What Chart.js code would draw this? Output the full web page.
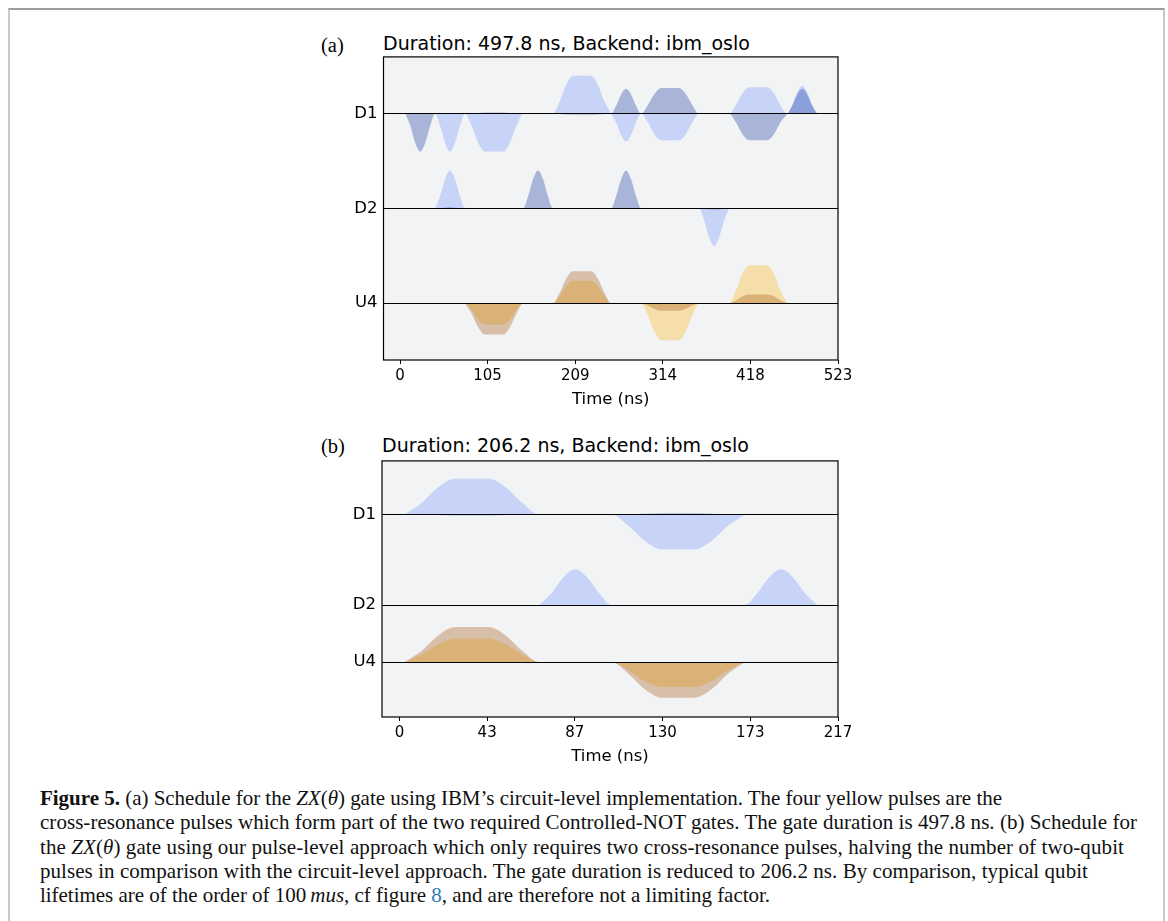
<!DOCTYPE html>
<html>
<head>
<meta charset="utf-8">
<script src="https://cdn.jsdelivr.net/npm/chart.js@4.4.0/dist/chart.umd.min.js"></script>
<style>
  body { margin: 0; width: 1168px; height: 921px; background: #fff; position: relative; overflow: hidden; }
  #frame { position: absolute; left: 8px; top: 8px; width: 1153px; height: 960px; border-top: 2px solid #9c9c9c; border-left: 2px solid #c8c8c8; border-right: 2px solid #c8c8c8; }
  .tag { position: absolute; left: 321px; font-family: "Liberation Serif"; font-size: 20.5px; line-height: 20px; color: #000; }
  .title { position: absolute; left: 383px; font-family: "DejaVu Sans"; font-size: 19px; line-height: 20px; color: #000; white-space: nowrap; }
  canvas { position: absolute; left: 300px; }
  #caption { position: absolute; left: 40px; top: 786px; font-family: "Liberation Serif"; font-size: 21px; line-height: 24.3px; color: #111; white-space: nowrap; }
  #caption .ln { display: inline-block; }
  #caption .lnk { color: #2b7bb9; }
</style>
</head>
<body>
<div id="frame"></div>
<div class="tag" style="top:35px">(a)</div>
<div class="title" style="top:33px">Duration: 497.8 ns, Backend: ibm_oslo</div>
<canvas id="chartA" width="560" height="379" style="top:41px"></canvas>
<div class="tag" style="top:436px">(b)</div>
<div class="title" style="top:435px;left:382px">Duration: 206.2 ns, Backend: ibm_oslo</div>
<canvas id="chartB" width="560" height="332" style="top:444.7px"></canvas>
<div id="caption">
<span class="ln" data-w="962"><b>Figure 5.</b> (a) Schedule for the <i>ZX</i>(<i>θ</i>) gate using IBM’s circuit-level implementation. The four yellow pulses are the</span><br>
<span class="ln" data-w="1097">cross-resonance pulses which form part of the two required Controlled-NOT gates. The gate duration is 497.8 ns. (b) Schedule for</span><br>
<span class="ln" data-w="1084">the <i>ZX</i>(<i>θ</i>) gate using our pulse-level approach which only requires two cross-resonance pulses, halving the number of two-qubit</span><br>
<span class="ln" data-w="1048">pulses in comparison with the circuit-level approach. The gate duration is reduced to 206.2 ns. By comparison, typical qubit</span><br>
<span class="ln" data-w="730">lifetimes are of the order of 100&thinsp;<i>mus</i>, cf figure <span class="lnk">8</span>, and are therefore not a limiting factor.</span>
</div>
<script>
let channelNames = ["D1", "D2", "U4"];

// (a) circuit-level schedule, time in ns, amplitudes scaled per channel
let aTickValues = [0, 104.5, 209.1, 313.6, 418.2, 522.7];
let aTickLabels = ["0", "105", "209", "314", "418", "523"];

let aD1Time = [6.4, 12.3, 18.2, 24.2, 30.1, 36.0, 41.9, 47.8, 53.8, 59.7, 65.6, 71.6, 77.5,
  85.5, 93.5, 101.5, 123.0, 131.0, 139.0, 147.0, 182.5, 190.5, 198.5, 206.5, 228.0, 236.0, 244.0, 252.0,
  257.9, 263.9, 269.8, 275.7, 281.7, 287.6, 295.6, 303.6, 311.6, 333.1, 341.1, 349.1, 357.1,
  392.7, 400.7, 408.7, 416.7, 438.2, 446.2, 454.2, 462.2, 468.1, 474.1, 480.0, 485.9, 491.9, 497.8];
let aD1Re = [0, 0, 0, 0, 0, 0, 0, -0.32, -0.77, -1, -0.77, -0.32, 0,
  -0.32, -0.77, -1, -1, -0.77, -0.32, 0, 0, 0.32, 0.77, 1, 1, 0.77, 0.32, 0,
  -0.23, -0.56, -0.73, -0.56, -0.23, 0, -0.22, -0.54, -0.7, -0.7, -0.54, -0.22, 0,
  0, 0.22, 0.54, 0.7, 0.7, 0.54, 0.22, 0, 0.24, 0.57, 0.74, 0.57, 0.24, 0];
let aD1Im = [0, -0.32, -0.77, -1, -0.77, -0.32, 0, 0, 0, 0, 0, 0, 0,
  0.01, 0.02, 0.03, 0.03, 0.02, 0.01, 0, 0, -0.01, -0.02, -0.03, -0.03, -0.02, -0.01, 0,
  0.21, 0.51, 0.66, 0.51, 0.21, 0, 0.22, 0.52, 0.68, 0.68, 0.52, 0.22, 0,
  0, -0.22, -0.54, -0.7, -0.7, -0.54, -0.22, 0, 0.21, 0.51, 0.66, 0.51, 0.21, 0];

let aD2Time = [41.9, 47.8, 53.8, 59.7, 65.6, 71.6, 77.5, 147.0, 152.9, 158.8, 164.8, 170.7, 176.6, 182.5,
  252.0, 257.9, 263.9, 269.8, 275.7, 281.7, 287.6, 357.1, 363.0, 369.0, 374.9, 380.8, 386.8, 392.7];
let aD2Re = [0, 0.32, 0.77, 1, 0.77, 0.32, 0, 0, 0, 0, 0, 0, 0, 0,
  0, 0, 0, 0, 0, 0, 0, 0, -0.32, -0.77, -1, -0.77, -0.32, 0];
let aD2Im = [0, 0.01, 0.02, 0.03, 0.02, 0.01, 0, 0, 0.32, 0.77, 1, 0.77, 0.32, 0,
  0, 0.32, 0.77, 1, 0.77, 0.32, 0, 0, -0.01, -0.02, -0.03, -0.02, -0.01, 0];

let aU4Time = [77.5, 85.5, 93.5, 101.5, 123.0, 131.0, 139.0, 147.0, 182.5, 190.5, 198.5, 206.5, 228.0, 236.0, 244.0, 252.0,
  287.6, 295.6, 303.6, 311.6, 333.1, 341.1, 349.1, 357.1, 392.7, 400.7, 408.7, 416.7, 438.2, 446.2, 454.2, 462.2];
let aU4Re = [0, -0.18, -0.44, -0.57, -0.57, -0.44, -0.18, 0, 0, 0.19, 0.45, 0.59, 0.59, 0.45, 0.19, 0,
  0, -0.31, -0.75, -0.98, -0.98, -0.75, -0.31, 0, 0, 0.32, 0.77, 1, 1, 0.77, 0.32, 0];
let aU4Im = [0, -0.27, -0.64, -0.83, -0.83, -0.64, -0.27, 0, 0, 0.27, 0.65, 0.84, 0.84, 0.65, 0.27, 0,
  0, -0.06, -0.15, -0.2, -0.2, -0.15, -0.06, 0, 0, 0.07, 0.18, 0.23, 0.23, 0.18, 0.07, 0];

// (b) pulse-level schedule
let bTickValues = [0, 43.3, 86.6, 129.9, 173.2, 216.5];
let bTickLabels = ["0", "43", "87", "130", "173", "217"];

let bD1Time = [2.6, 10.9, 19.3, 27.6, 44.0, 52.3, 60.7, 69.0, 104.6, 112.9, 121.3, 129.6, 145.6, 153.9, 162.3, 170.6];
let bD1Re = [0, 0.32, 0.77, 1, 1, 0.77, 0.32, 0, 0, -0.31, -0.75, -0.98, -0.98, -0.75, -0.31, 0];
let bD1Im = [0, -0.01, -0.02, -0.03, -0.03, -0.02, -0.01, 0, 0, 0.01, 0.02, 0.03, 0.03, 0.02, 0.01, 0];

let bD2Time = [69.0, 74.9, 80.9, 86.8, 92.7, 98.7, 104.6, 170.6, 176.5, 182.5, 188.4, 194.3, 200.3, 206.2];
let bD2Re = [0, 0.32, 0.77, 1, 0.77, 0.32, 0, 0, 0.32, 0.77, 1, 0.77, 0.32, 0];
let bD2Im = [0, -0.01, -0.02, -0.02, -0.02, -0.01, 0, 0, -0.01, -0.02, -0.02, -0.02, -0.01, 0];

let bU4Time = [2.6, 10.9, 19.3, 27.6, 44.0, 52.3, 60.7, 69.0, 104.6, 112.9, 121.3, 129.6, 145.6, 153.9, 162.3, 170.6];
let bU4Re = [0, 0.21, 0.51, 0.66, 0.66, 0.51, 0.21, 0, 0, -0.22, -0.54, -0.7, -0.7, -0.54, -0.22, 0];
let bU4Im = [0, 0.31, 0.75, 0.98, 0.98, 0.75, 0.31, 0, 0, -0.32, -0.77, -1, -1, -0.77, -0.32, 0];

let reColors = { D: "rgba(100, 143, 255, 0.3)", U: "rgba(255, 176, 0, 0.3)" };
let imColors = { D: "rgba(0, 41, 153, 0.3)", U: "rgba(153, 74, 0, 0.3)" };

Chart.defaults.font.family = "DejaVu Sans";
Chart.defaults.color = "#000";

let panelPlugin = {
  id: "panelFrame",
  beforeDraw(chart) {
    let a = chart.chartArea;
    let ctx = chart.ctx;
    ctx.save();
    ctx.fillStyle = "#f2f3f4";
    ctx.fillRect(a.left, a.top, a.right - a.left, a.bottom - a.top);
    ctx.restore();
  },
  afterDraw(chart) {
    let a = chart.chartArea;
    let ctx = chart.ctx;
    ctx.save();
    ctx.strokeStyle = "#000";
    ctx.lineWidth = 1.2;
    ctx.strokeRect(a.left, a.top, a.right - a.left, a.bottom - a.top);
    ctx.restore();
  }
};

let makeLine = (times, vals, base, color) => ({
  data: times.map((t, i) => ({ x: t, y: base + vals[i] })),
  backgroundColor: color,
  borderWidth: 0,
  pointRadius: 0,
  cubicInterpolationMode: "monotone",
  fill: { value: base }
});

let drawPanel = (id, channels, opts) => {
  let datasets = [];
  // imaginary part first so chart.js paints it over the real part
  channels.forEach((ch, k) => {
    let kind = ch.name[0];
    datasets.push(makeLine(ch.time, ch.im, opts.offsets[k], imColors[kind]));
    datasets.push(makeLine(ch.time, ch.re, opts.offsets[k], reColors[kind]));
  });
  new Chart(document.getElementById(id), {
    type: "line",
    data: { datasets: datasets },
    plugins: [panelPlugin],
    options: {
      responsive: false,
      animation: false,
      layout: { padding: { top: 12, right: 22, left: 0, bottom: 0 } },
      plugins: { legend: { display: false }, tooltip: { enabled: false } },
      scales: {
        x: {
          type: "linear",
          min: opts.xMin,
          max: opts.xMax,
          afterBuildTicks: scale => { scale.ticks = opts.tickValues.map(v => ({ value: v })); },
          afterFit: scale => { scale.height = 60; },
          ticks: {
            autoSkip: false,
            maxRotation: 0,
            padding: 3,
            font: { size: 15 },
            callback: (v, i) => opts.tickLabels[i]
          },
          grid: { drawOnChartArea: false, drawTicks: true, tickLength: 4, color: "#000" },
          border: { display: false },
          title: { display: true, text: "Time (ns)", font: { size: 16.5 }, padding: { top: 4, bottom: 10 } }
        },
        y: {
          type: "linear",
          min: opts.yMin,
          max: opts.yMax,
          afterBuildTicks: scale => { scale.ticks = opts.offsets.map(v => ({ value: v })); },
          afterFit: scale => { scale.width = opts.axisWidth; },
          ticks: {
            autoSkip: false,
            padding: 6,
            font: { size: 16.5 },
            callback: (v, i) => channels[i].name
          },
          grid: { color: "#000", lineWidth: 1, drawTicks: false, z: 1 },
          border: { display: false }
        }
      }
    }
  });
};

drawPanel("chartA", [
  { name: channelNames[0], time: aD1Time, re: aD1Re, im: aD1Im },
  { name: channelNames[1], time: aD2Time, re: aD2Re, im: aD2Im },
  { name: channelNames[2], time: aU4Time, re: aU4Re, im: aU4Im }
], {
  offsets: [0, -2.5, -5], yMin: -6.5, yMax: 1.5,
  xMin: -19.7, xMax: 522.7, axisWidth: 83.5,
  tickValues: aTickValues, tickLabels: aTickLabels
});

drawPanel("chartB", [
  { name: channelNames[0], time: bD1Time, re: bD1Re, im: bD1Im },
  { name: channelNames[1], time: bD2Time, re: bD2Re, im: bD2Im },
  { name: channelNames[2], time: bU4Time, re: bU4Re, im: bU4Im }
], {
  offsets: [0, -2.54, -4.14], yMin: -5.68, yMax: 1.5,
  xMin: -8.6, xMax: 216.5, axisWidth: 82,
  tickValues: bTickValues, tickLabels: bTickLabels
});

// stretch each caption line to the width it has in the printed figure
document.querySelectorAll("#caption .ln").forEach(el => {
  let target = +el.dataset.w;
  let n = el.textContent.length;
  let diff = target - el.getBoundingClientRect().width;
  el.style.letterSpacing = (diff / n) + "px";
});
</script>
</body>
</html>
